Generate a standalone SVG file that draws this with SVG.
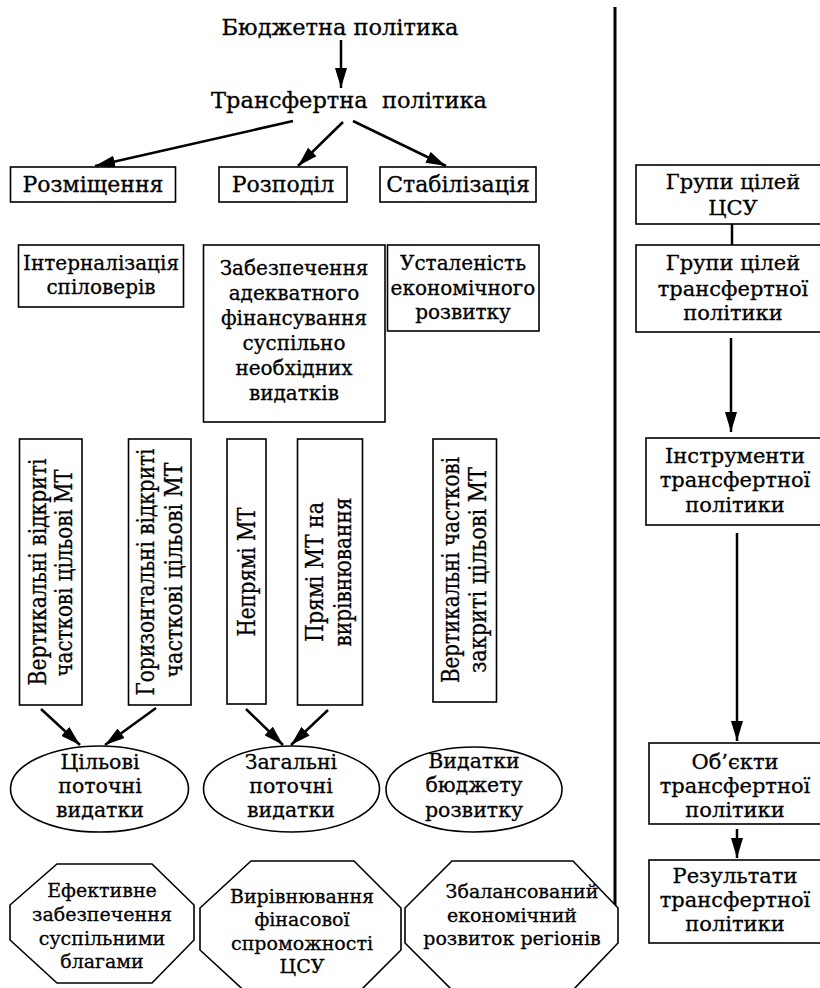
<svg xmlns="http://www.w3.org/2000/svg" width="820" height="988" viewBox="0 0 820 988">
<defs>
<style>
.t{font-family:"DejaVu Serif","Liberation Serif",serif;font-size:20px;fill:#000;stroke:#000;stroke-width:0.3;text-anchor:middle;}
.h{font-size:22.5px;}
.k{font-size:22px;}
.e{font-size:20.5px;}
.o{font-size:19px;}
.q{font-size:21px;}
.r{font-family:"DejaVu Serif","Liberation Serif",serif;font-size:24px;fill:#000;stroke:#000;stroke-width:0.3;text-anchor:middle;}
.b{fill:#fff;stroke:#000;stroke-width:1.6;}
.c{fill:none;stroke:#000;stroke-width:2.5;}
.a{fill:none;stroke:#000;stroke-width:2.5;marker-end:url(#ah);}
</style>
<marker id="ah" markerUnits="userSpaceOnUse" markerWidth="20" markerHeight="12" refX="20" refY="6" orient="auto">
<path d="M0,0 L20,6 L0,12 z" fill="#000"/>
</marker>
</defs>
<rect x="0" y="0" width="820" height="988" fill="#fff"/>

<g id="connectors">
<line class="a" x1="341" y1="40" x2="341" y2="88"/>
<line class="a" x1="293" y1="121" x2="95" y2="166"/>
<line class="a" x1="343" y1="122" x2="298" y2="166"/>
<line class="a" x1="353" y1="121" x2="446" y2="166"/>
<line class="a" x1="41" y1="709" x2="80" y2="745"/>
<line class="a" x1="156" y1="708" x2="105" y2="745"/>
<line class="a" x1="246" y1="709" x2="283" y2="745"/>
<line class="a" x1="328" y1="710" x2="291" y2="745"/>
<line class="c" x1="615" y1="7" x2="615" y2="907" style="stroke-width:3"/>
<line class="c" x1="732" y1="224" x2="732" y2="245"/>
<line class="a" x1="731" y1="338" x2="731" y2="432"/>
<line class="a" x1="737" y1="533" x2="737" y2="741"/>
<line class="a" x1="737" y1="829" x2="737" y2="858"/>
</g>

<g id="n-budget"><text class="t h" x="340" y="35">Бюджетна політика</text></g>
<g id="n-transfer"><text class="t h" x="349" y="108" xml:space="preserve">Трансфертна  політика</text></g>

<g id="n-rozm"><rect class="b" x="10.5" y="167" width="165" height="35"/><text class="t k" x="93" y="192">Розміщення</text></g>
<g id="n-rozp"><rect class="b" x="219" y="167" width="128" height="35"/><text class="t k" x="283" y="192">Розподіл</text></g>
<g id="n-stab"><rect class="b" x="380" y="167" width="156" height="35"/><text class="t k" x="458" y="192">Стабілізація</text></g>

<g id="n-intern"><rect class="b" x="18.5" y="245" width="165" height="62"/>
<text class="t" x="101" y="270">Інтерналізація</text><text class="t" x="101" y="294">спіловерів</text></g>
<g id="n-zabezp"><rect class="b" x="203.5" y="245" width="181.5" height="177"/>
<text class="t" x="294" y="275">Забезпечення</text><text class="t" x="294" y="300">адекватного</text><text class="t" x="294" y="325">фінансування</text><text class="t" x="294" y="350">суспільно</text><text class="t" x="294" y="375">необхідних</text><text class="t" x="294" y="400">видатків</text></g>
<g id="n-ustal"><rect class="b" x="387.5" y="245" width="151.5" height="86"/>
<text class="t" x="463" y="270">Усталеність</text><text class="t" x="463" y="295">економічного</text><text class="t" x="463" y="319">розвитку</text></g>

<g id="n-v1"><rect class="b" x="19.5" y="439" width="62.5" height="266"/>
<text class="r" transform="translate(46,572) rotate(-90)" textLength="227" lengthAdjust="spacingAndGlyphs">Вертикальні відкриті</text>
<text class="r" transform="translate(72,573) rotate(-90)" textLength="207" lengthAdjust="spacingAndGlyphs">часткові цільові МТ</text></g>
<g id="n-v2"><rect class="b" x="128.5" y="439" width="62.5" height="266"/>
<text class="r" transform="translate(154,572) rotate(-90)" textLength="247" lengthAdjust="spacingAndGlyphs">Горизонтальні відкриті</text>
<text class="r" transform="translate(182,570) rotate(-90)" textLength="215" lengthAdjust="spacingAndGlyphs">часткові цільові МТ</text></g>
<g id="n-v3"><rect class="b" x="227" y="439" width="39" height="265"/>
<text class="r" transform="translate(255,572) rotate(-90)" textLength="129" lengthAdjust="spacingAndGlyphs">Непрямі МТ</text></g>
<g id="n-v4"><rect class="b" x="297.5" y="439" width="65" height="266"/>
<text class="r" transform="translate(323,572) rotate(-90)" textLength="140" lengthAdjust="spacingAndGlyphs">Прямі МТ на</text>
<text class="r" transform="translate(351,572) rotate(-90)" textLength="149" lengthAdjust="spacingAndGlyphs">вирівнювання</text></g>
<g id="n-v5"><rect class="b" x="433" y="439" width="63.5" height="263"/>
<text class="r" transform="translate(459,570) rotate(-90)" textLength="226" lengthAdjust="spacingAndGlyphs">Вертикальні часткові</text>
<text class="r" transform="translate(486,570) rotate(-90)" textLength="206" lengthAdjust="spacingAndGlyphs">закриті цільові МТ</text></g>

<g id="n-e1"><ellipse class="b" cx="99.5" cy="789" rx="89" ry="43"/>
<text class="t e" x="100" y="769">Цільові</text><text class="t e" x="100" y="793">поточні</text><text class="t e" x="100" y="817">видатки</text></g>
<g id="n-e2"><ellipse class="b" cx="291.5" cy="789" rx="88" ry="43"/>
<text class="t e" x="291" y="769">Загальні</text><text class="t e" x="291" y="793">поточні</text><text class="t e" x="291" y="817">видатки</text></g>
<g id="n-e3"><ellipse class="b" cx="474" cy="789.5" rx="88" ry="42.5"/>
<text class="t e" x="474" y="768">Видатки</text><text class="t e" x="474" y="792">бюджету</text><text class="t e" x="474" y="817">розвитку</text></g>

<g id="n-o1"><polygon class="b" points="57,864 152,864 194,905 194,940 152,983 57,983 10,940 10,905"/>
<text class="t o" x="102" y="897">Ефективне</text><text class="t o" x="102" y="921">забезпечення</text><text class="t o" x="102" y="945">суспільними</text><text class="t o" x="102" y="968">благами</text></g>
<g id="n-o2"><polygon class="b" points="251,861 354,861 401,908 401,950 354,997 251,997 200,950 200,908"/>
<text class="t o" x="302" y="903">Вирівнювання</text><text class="t o" x="302" y="926">фінасової</text><text class="t o" x="302" y="950">спроможності</text><text class="t o" x="302" y="973">ЦСУ</text></g>
<g id="n-o3"><polygon class="b" points="452,861 573,861 618,908 618,943 573,990 452,990 405,943 405,908"/>
<text class="t o" x="522" y="898">Збалансований</text><text class="t o" x="512" y="922">економічний</text><text class="t o" x="512" y="945">розвиток регіонів</text></g>

<g id="n-r1"><rect class="b" x="636" y="165" width="200" height="59"/>
<text class="t q" x="733" y="189">Групи цілей</text><text class="t q" x="733" y="215">ЦСУ</text></g>
<g id="n-r2"><rect class="b" x="636" y="245" width="200" height="87"/>
<text class="t q" x="733" y="270">Групи цілей</text><text class="t q" x="733" y="296">трансфертної</text><text class="t q" x="733" y="320">політики</text></g>
<g id="n-r3"><rect class="b" x="646" y="438" width="190" height="87"/>
<text class="t q" x="735" y="463">Інструменти</text><text class="t q" x="735" y="487">трансфертної</text><text class="t q" x="735" y="512">політики</text></g>
<g id="n-r4"><rect class="b" x="649" y="743" width="190" height="81"/>
<text class="t q" x="735" y="769">Об’єкти</text><text class="t q" x="735" y="793">трансфертної</text><text class="t q" x="735" y="817">політики</text></g>
<g id="n-r5"><rect class="b" x="649" y="860" width="190" height="83"/>
<text class="t q" x="735" y="883">Результати</text><text class="t q" x="735" y="907">трансфертної</text><text class="t q" x="735" y="931">політики</text></g>
</svg>
